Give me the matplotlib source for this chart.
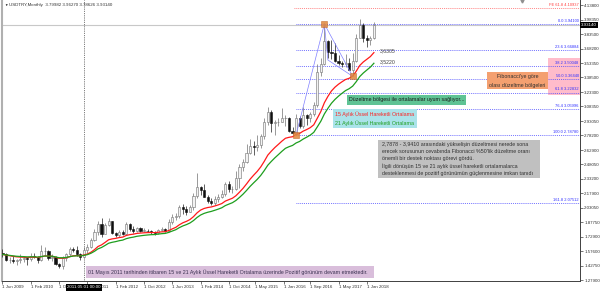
import numpy as np
import pandas as pd
import matplotlib
matplotlib.use('Agg')
import matplotlib.pyplot as plt
from matplotlib.patches import Rectangle

plt.rcParams['font.family'] = ['Liberation Sans', 'DejaVu Sans']

# USDTRY monthly bars, Jun 2009 .. Mar 2018 (index 0 = Jun 2009)
opens = [1.555, 1.545, 1.485, 1.490, 1.480, 1.485, 1.500,
         1.505, 1.495, 1.530, 1.520, 1.490, 1.580, 1.585, 1.510, 1.520, 1.445, 1.425, 1.510,
         1.545, 1.600, 1.595, 1.550, 1.520, 1.590, 1.620, 1.700, 1.780, 1.860, 1.760, 1.850,
         1.890, 1.770, 1.750, 1.780, 1.760, 1.860, 1.810, 1.790, 1.820, 1.790, 1.790, 1.785,
         1.780, 1.765, 1.800, 1.810, 1.790, 1.880, 1.930, 1.940, 2.040, 2.020, 1.990, 2.040,
         2.150, 2.250, 2.210, 2.140, 2.100, 2.080, 2.120, 2.140, 2.170, 2.280, 2.220, 2.230,
         2.340, 2.450, 2.510, 2.600, 2.670, 2.660, 2.680, 2.780, 2.920, 3.030, 2.910, 2.920,
         2.920, 2.960, 2.960, 2.830, 2.810, 2.960, 2.880, 2.990, 2.960, 3.000, 3.100, 3.440,
         3.520, 3.760, 3.650, 3.640, 3.560, 3.530, 3.520, 3.530, 3.460, 3.560, 3.800, 3.930,
         3.800, 3.770, 3.79982]
highs = [1.600, 1.560, 1.520, 1.525, 1.500, 1.545, 1.530,
         1.515, 1.560, 1.555, 1.525, 1.640, 1.620, 1.590, 1.545, 1.530, 1.460, 1.530, 1.560,
         1.620, 1.625, 1.630, 1.560, 1.620, 1.650, 1.720, 1.810, 1.890, 1.920, 1.870, 1.920,
         1.895, 1.780, 1.800, 1.800, 1.880, 1.870, 1.840, 1.830, 1.830, 1.820, 1.810, 1.800,
         1.790, 1.810, 1.830, 1.820, 1.910, 1.970, 1.980, 2.060, 2.070, 2.050, 2.060, 2.180,
         2.390, 2.260, 2.280, 2.160, 2.130, 2.150, 2.170, 2.210, 2.300, 2.310, 2.260, 2.410,
         2.480, 2.540, 2.690, 2.750, 2.720, 2.790, 2.800, 2.960, 3.080, 3.050, 2.940, 2.960,
         3.070, 2.990, 2.970, 2.870, 3.000, 2.980, 3.080, 3.000, 3.030, 3.130, 3.520, 3.590,
         3.941, 3.770, 3.770, 3.740, 3.620, 3.560, 3.630, 3.590, 3.640, 3.840, 3.990, 3.950,
         3.830, 3.820, 3.96270]
lows = [1.520, 1.480, 1.460, 1.455, 1.430, 1.460, 1.470,
        1.440, 1.480, 1.505, 1.460, 1.480, 1.530, 1.490, 1.480, 1.430, 1.400, 1.390, 1.480,
        1.530, 1.570, 1.530, 1.490, 1.510, 1.560, 1.610, 1.680, 1.750, 1.730, 1.760, 1.840,
        1.760, 1.730, 1.730, 1.750, 1.750, 1.790, 1.770, 1.780, 1.780, 1.780, 1.780, 1.760,
        1.750, 1.760, 1.790, 1.780, 1.780, 1.860, 1.900, 1.920, 1.970, 1.960, 1.990, 2.010,
        2.130, 2.160, 2.140, 2.080, 2.060, 2.060, 2.090, 2.130, 2.150, 2.190, 2.180, 2.210,
        2.240, 2.410, 2.500, 2.590, 2.580, 2.620, 2.650, 2.750, 2.890, 2.820, 2.790, 2.880,
        2.920, 2.880, 2.820, 2.800, 2.7878, 2.860, 2.860, 2.890, 2.920, 2.980, 3.080, 3.400,
        3.510, 3.590, 3.580, 3.550, 3.510, 3.490, 3.490, 3.460, 3.39669, 3.550, 3.790, 3.750,
        3.700, 3.720, 3.78626]
closes = [1.545, 1.485, 1.490, 1.480, 1.485, 1.500, 1.505,
          1.495, 1.530, 1.520, 1.490, 1.580, 1.585, 1.510, 1.520, 1.445, 1.425, 1.510, 1.545,
          1.600, 1.595, 1.550, 1.520, 1.590, 1.620, 1.700, 1.780, 1.860, 1.760, 1.850, 1.890,
          1.770, 1.750, 1.780, 1.760, 1.860, 1.810, 1.790, 1.820, 1.790, 1.790, 1.785, 1.780,
          1.765, 1.800, 1.810, 1.790, 1.880, 1.930, 1.940, 2.040, 2.020, 1.990, 2.040, 2.150,
          2.250, 2.210, 2.140, 2.100, 2.080, 2.120, 2.140, 2.170, 2.280, 2.220, 2.230, 2.340,
          2.450, 2.510, 2.600, 2.670, 2.660, 2.680, 2.780, 2.920, 3.030, 2.910, 2.920, 2.920,
          2.960, 2.960, 2.830, 2.810, 2.960, 2.880, 2.990, 2.960, 3.000, 3.100, 3.440, 3.520,
          3.760, 3.650, 3.640, 3.560, 3.530, 3.520, 3.530, 3.460, 3.560, 3.800, 3.930, 3.800,
          3.770, 3.800, 3.93140]

x_labels = ['1 Jun 2009', '1 Feb 2010', '1 Oct 2010', '1 Jun 2011', '1 Feb 2012', '1 Oct 2012',
            '1 Jun 2013', '1 Feb 2014', '1 Oct 2014', '1 May 2015', '1 Jan 2016', '1 Sep 2016',
            '1 May 2017', '1 Jan 2018']
x_label_idx = [0, 8, 16, 24, 32, 40, 48, 56, 64, 71.5, 79.5, 87, 95, 103]

y_ticks = [4.13800, 3.98350, 3.83500, 3.68200, 3.53350, 3.38500, 3.23300, 3.08350, 2.93050,
           2.78200, 2.62900, 2.48050, 2.33200, 2.17900, 2.03050, 1.87750, 1.72900, 1.57600,
           1.42750, 1.27900]

# Fibonacci retracement 2.7878 (May 2016) -> 3.9410 (Jan 2017), expansion from Sep 2017 low
fib_ratio = ['0.0', '23.6', '38.2', '50.0', '61.8', '76.4', '100.0', '161.8']
fib_price = [3.94100, 3.66884, 3.50048, 3.36440, 3.22832, 3.05996, 2.78780, 2.07512]
fe_price = 4.10937
fib_points_idx = [83, 91, 99]
fib_points_price = [2.7878, 3.9410, 3.39669]

ema_fast_label = '3,6305'
ema_slow_label = '3,5220'
cross_idx = 23  # 2011.05.01

n = len(closes)
idx = np.arange(n)
o = np.array(opens); h = np.array(highs); l = np.array(lows); c = np.array(closes)
ema15 = pd.Series(c).ewm(span=15, adjust=False).mean()
ema21 = pd.Series(c).ewm(span=21, adjust=False).mean()

fig = plt.figure(figsize=(6, 2.92), dpi=100)
ax = fig.add_axes([2/600, 11/292, 578/600, 281/292])
ax.set_xlim(-0.14, 163.27)
ax.set_ylim(1.2687, 4.190)

# bid line and crosshair
ax.axhline(c[-1], color='#c8c8c8', lw=0.8, zorder=1)
ax.axvline(cross_idx, color='#505050', lw=0.6, ls=(0, (1, 1.2)), zorder=1)

# candles
up = c >= o
ax.vlines(idx[up], l[up], h[up], color='#707070', lw=0.5, zorder=3)
ax.vlines(idx[~up], l[~up], h[~up], color='#202020', lw=0.5, zorder=3)
body = np.maximum(np.abs(c - o), 0.004)
ax.bar(idx[up], body[up], bottom=np.minimum(o, c)[up], width=0.6,
       color='#f2f2f2', edgecolor='#707070', lw=0.4, zorder=4)
ax.bar(idx[~up], body[~up], bottom=np.minimum(o, c)[~up], width=0.6,
       color='#101010', edgecolor='#101010', lw=0.4, zorder=4)

# moving averages
ax.plot(idx, ema15, color='#ff1a1a', lw=0.9, zorder=5)
ax.plot(idx, ema21, color='#1e9e1e', lw=0.9, zorder=5)
ax.text(n + 0.6, ema15.iloc[-1] + 0.015, ema_fast_label, fontsize=3.7, color='#404040', va='center')
ax.text(n + 0.6, ema21.iloc[-1] + 0.02, ema_slow_label, fontsize=3.7, color='#404040', va='center')

# fibonacci levels
x0 = fib_points_idx[0]
x_end = ax.get_xlim()[1]
ax.add_patch(Rectangle((154.2, 3.202), 10, 0.385, color='#ffbccb', lw=0, zorder=1))
for r, p in zip(fib_ratio, fib_price):
    ax.hlines(p, x0, x_end, color='#4848ff', lw=0.6, ls=(0, (1, 1.3)), zorder=2)
    ax.text(162.9, p + 0.012, f'{r} {p:.5f}', fontsize=2.9, color='#3030ff', ha='right', va='bottom', zorder=6)
ax.hlines(fe_price, x0 - 0.5, x_end, color='#ff6060', lw=0.6, ls=(0, (1, 1.3)), zorder=2)
ax.text(162.9, fe_price + 0.012, f'FE 61.8 {fe_price:.5f}', fontsize=2.9, color='#ff4040',
        ha='right', va='bottom', zorder=6)

# fibo tool lines and anchor squares
ax.plot(fib_points_idx[:2], fib_points_price[:2], color='#8080ff', lw=0.5, zorder=6)
ax.plot(fib_points_idx[1:], fib_points_price[1:], color='#8080ff', lw=0.5, zorder=6)
ax.plot([fib_points_idx[1], 92, fib_points_idx[2]], [fib_points_price[1], 3.566, fib_points_price[2]],
        color='#8080ff', lw=0.5, zorder=6)
ax.plot(fib_points_idx, fib_points_price, ls='none', marker='s', ms=4.2, color='#e0863a',
        mec='#c06020', mew=0.4, alpha=0.85, zorder=7)

# annotation boxes
def box(x1, x2, y1, y2, color):
    ax.add_patch(Rectangle((x1, y2), x2 - x1, y1 - y2, color=color, lw=0, zorder=8))

fs = 3.8
box(137.0, 154.2, 3.441, 3.265, '#f4a070')
ax.text(145.6, 3.395, "Fibonacci'ye göre", fontsize=fs, color='#303030', ha='center', va='center', zorder=9)
ax.text(145.6, 3.305, 'olası düzeltme bölgeleri', fontsize=fs, color='#303030', ha='center', va='center', zorder=9)

box(97.4, 131.0, 3.2024, 3.0984, '#5fc394')
ax.text(98.0, 3.151, 'Düzeltme bölgesi ile ortalamalar uyum sağlıyor...', fontsize=fs,
        color='#1a1a1a', va='center', zorder=9)

box(93.4, 117.2, 3.057, 2.859, '#aae3ea')
ax.text(94.0, 3.005, '15 Aylık Üssel Hareketli Ortalama', fontsize=fs, color='#ff2020', va='center', zorder=9)
ax.text(94.0, 2.910, '21 Aylık Üssel Hareketli Ortalama', fontsize=fs, color='#1e9e1e', va='center', zorder=9)

box(106.2, 151.9, 2.7345, 2.3395, '#c0c0c0')
gray_lines = ['2,7878 - 3,9410 arasındaki yükselişin düzeltmesi nerede sona',
              "erecek sorusunun cevabında Fibonacci %50'lik düzeltme oranı",
              'önemli bir destek noktası görevi gördü.',
              'İlgili dönüşün 15 ve 21 aylık üssel hareketli ortalamalarca',
              'desteklenmesi de pozitif görünümün güçlenmesine imkan tanıdı']
for t, py in zip(gray_lines, [144, 151.5, 158.5, 166.5, 173.5]):
    ax.text(107.3, 4.138 - (py - 5) / 96.19, t, fontsize=fs, color='#303030', va='center', zorder=9)

box(23.6, 105.0, 1.4247, 1.2999, '#d9bedb')
ax.text(24.2, 1.362, '01 Mayıs 2011 tarihinden itibaren 15 ve 21 Aylık Üssel Hareketli Ortalama '
        'üzerinde Pozitif görünüm devam etmektedir.', fontsize=fs, color='#3a3050', va='center', zorder=9)

# axes styling
ax.spines['top'].set_visible(False)
ax.spines['left'].set_color('#b0b0b0')
ax.spines['left'].set_linewidth(1.5)
ax.spines['right'].set_color('#404040')
ax.spines['bottom'].set_color('#404040')
ax.spines['right'].set_linewidth(0.7)
ax.spines['bottom'].set_linewidth(0.7)

ax.yaxis.tick_right()
ax.set_yticks(y_ticks)
ax.set_yticklabels([f'{v:.5f}' for v in y_ticks])
ax.set_xticks(x_label_idx)
ax.set_xticklabels(x_labels)
ax.tick_params(axis='both', labelsize=3.2, length=2, width=0.5, color='#404040',
               labelcolor='#303030', pad=1)
for lab in ax.get_xticklabels():
    lab.set_ha('left')

# current price box and crosshair date box
ax.text(1.002, c[-1], f'{c[-1]:.5f}', transform=ax.get_yaxis_transform(), fontsize=3.2,
        color='white', va='center', ha='left', clip_on=False, zorder=10,
        bbox=dict(boxstyle='square,pad=0.25', fc='black', ec='black', lw=0))
ax.text(cross_idx, -0.022, '2011.05.01 00:00', transform=ax.get_xaxis_transform(), fontsize=3.2,
        color='white', va='center', ha='center', clip_on=False, zorder=10,
        bbox=dict(boxstyle='square,pad=0.3', fc='black', ec='black', lw=0))

# chart shift marker
ax.plot([147], [4.175], marker='v', ms=2.2, color='#909090', clip_on=False, zorder=10)

fig.text(4/600, 1 - 5/292, '\u25bc', fontsize=2.5, color='black', va='center')
fig.text(9/600, 1 - 5/292, 'USDTRY,Monthly  3.79982 3.96270 3.78626 3.93140', fontsize=3.2,
         color='#303030', va='center')

fig.savefig('out.png', dpi=100)
